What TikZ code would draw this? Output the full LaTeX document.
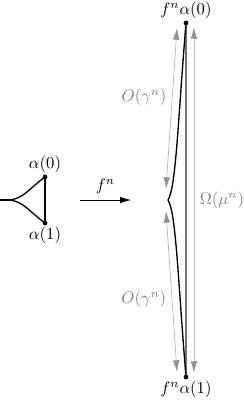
\documentclass[tikz,border=0pt]{standalone}
\usepackage{tikz}
\usetikzlibrary{arrows.meta,positioning}
\usepackage{amsmath}

\begin{document}
\begin{tikzpicture}[x=0.6pt, y=-0.6pt,
            dot/.style = {draw, circle, fill, inner sep=0pt, minimum size=2.4pt},
            lbl/.style = {inner sep=1pt},
            est/.style = {gray!60, {Latex[length=7pt,width=4pt,color=gray!85]}-{Latex[length=7pt,width=4pt,color=gray!85]}},
            est text/.style = {text=gray}]
            \useasboundingbox (0,0) rectangle (243,400);

            \coordinate (T) at (0,200);
            \coordinate (J) at (8,200);
            \node[dot] (A0) at (45,177) {};
            \node[dot] (A1) at (45,223) {};
            \node[lbl] (LA0) [above=0pt of A0] {$\alpha(0)$};
            \node[lbl] (LA1) [below=0pt of A1] {$\alpha(1)$};

            \draw[thick] (T) -- (J);
            \draw[thick] (J) .. controls (22,200) and (30,188) .. (A0);
            \draw[thick] (J) .. controls (22,200) and (30,212) .. (A1);
            \draw[thick] (A0) -- (A1);

            \coordinate (F0) at (80,200);
            \coordinate (F1) at (131,200);
            \draw[-{Latex[length=6.5pt,width=3.8pt]}] (F0) -- node[above] (LF) {$f^n$} (F1);

            \node[dot] (B0) at (186,23) {};
            \node[dot] (B1) at (186,377) {};
            \node[lbl] (LB0) [above=0pt of B0] {$f^n\alpha(0)$};
            \node[lbl] (LB1) [below=0pt of B1] {$f^n\alpha(1)$};
            \coordinate (C) at (168,200);

            \draw[black!55, line width=1.3pt] (B0) -- (B1);
            \draw[thick] (B0.center) .. controls (178,120) and (176,188) .. (C);
            \draw[thick] (B1.center) .. controls (178,280) and (176,212) .. (C);

            \coordinate (P0) at (177,28);
            \coordinate (P1) at (166,189);
            \coordinate (Q0) at (166,211);
            \coordinate (Q1) at (177,372);
            \coordinate (W0) at (194,27);
            \coordinate (W1) at (194,373);
            \draw[est] (P0) -- node[est text, left, pos=0.43] (OU) {$O(\gamma^n)$} (P1);
            \draw[est] (Q0) -- node[est text, left, pos=0.55] (OL) {$O(\gamma^n)$} (Q1);
            \draw[est] (W0) -- node[est text, right] (OM) {$\Omega(\mu^n)$} (W1);
        \end{tikzpicture}
\end{document}
